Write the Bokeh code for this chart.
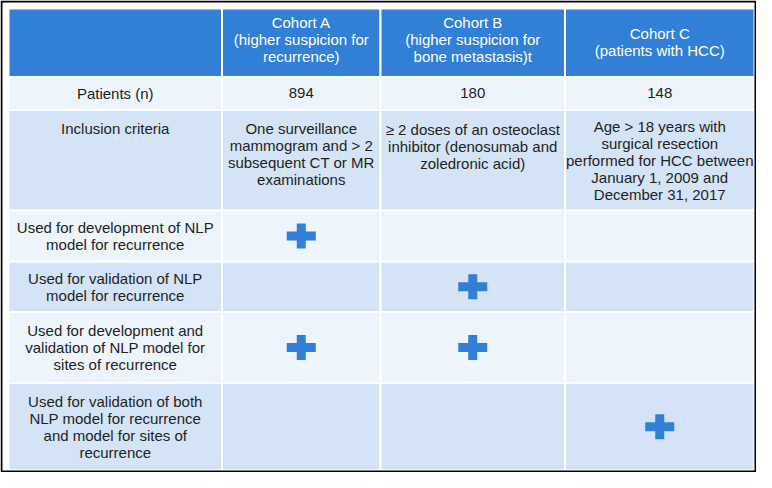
from bokeh.plotting import figure
from bokeh.models import Range1d, ColumnDataSource
from bokeh.core.properties import value
from bokeh.embed import file_html
from bokeh.resources import INLINE

# ---- data ----
cohorts = ["Cohort A\n(higher suspicion for\nrecurrence)",
           "Cohort B\n(higher suspicion for\nbone metastasis)t",
           "Cohort C\n(patients with HCC)"]
row_labels = ["Patients (n)",
              "Inclusion criteria",
              "Used for development of NLP\nmodel for recurrence",
              "Used for validation of NLP\nmodel for recurrence",
              "Used for development and\nvalidation of NLP model for\nsites of recurrence",
              "Used for validation of both\nNLP model for recurrence\nand model for sites of\nrecurrence"]
patients = ["894", "180", "148"]
criteria = ["One surveillance\nmammogram and > 2\nsubsequent CT or MR\nexaminations",
            "\u2265 2 doses of an osteoclast\ninhibitor (denosumab and\nzoledronic acid)",
            "Age > 18 years with\nsurgical resection\nperformed for HCC between\nJanuary 1, 2009 and\nDecember 31, 2017"]
usage = [[1, 0, 0],
         [0, 1, 0],
         [1, 1, 0],
         [0, 0, 1]]

# ---- layout ----
W, H = 756, 472
col_edges = [8, 221.5, 380, 564.5, 754]
row_edges = [8, 76.5, 109.5, 210, 261, 311.5, 382.5, 470]
crit_pad = [9.5, 11, 8]
HEAD = "#317fd7"
LIGHT = "#eef4fc"
DARK = "#d4e4f6"
TXT = "#231f20"
FONT = value("Liberation Sans")
FS = "15px"
LH = 1.0

p = figure(width=W, height=H, output_backend="svg", toolbar_location=None,
           x_range=Range1d(0, W), y_range=Range1d(H, 0),
           x_axis_type=None, y_axis_type=None, min_border=0,
           background_fill_color="white", border_fill_color="white")
p.grid.visible = False
p.outline_line_color = None

# cells
l, r, t, b, c = [], [], [], [], []
nrows = len(row_edges) - 1
for i in range(nrows):
    for j in range(len(col_edges) - 1):
        l.append(col_edges[j]); r.append(col_edges[j + 1])
        t.append(row_edges[i]); b.append(row_edges[i + 1])
        if i == 0:
            c.append(HEAD)
        else:
            c.append(LIGHT if i % 2 == 1 else DARK)
p.quad(left=l, right=r, top=t, bottom=b, fill_color=c, line_color="white", line_width=2)

def cx(j):
    return (col_edges[j] + col_edges[j + 1]) / 2

def cy(i):
    return (row_edges[i] + row_edges[i + 1]) / 2

# header
p.text(x=[cx(j + 1) for j in range(3)], y=[cy(0) - 3, cy(0) - 3, cy(0) - 1], text=cohorts,
       text_color="white", text_font=FONT, text_font_size=FS,
       text_align="center", text_baseline="middle", text_line_height=LH)

# row labels (centered, except inclusion row top aligned)
ci = [k for k in range(len(row_labels)) if k != 1]
p.text(x=[cx(0)] * len(ci), y=[cy(k + 1) for k in ci], text=[row_labels[k] for k in ci],
       text_color=TXT, text_font=FONT, text_font_size=FS,
       text_align="center", text_baseline="middle", text_line_height=LH)
p.text(x=[cx(0)], y=[row_edges[2] + 9.5], text=[row_labels[1]],
       text_color=TXT, text_font=FONT, text_font_size=FS,
       text_align="center", text_baseline="top", text_line_height=LH)

# patients
p.text(x=[cx(j + 1) for j in range(3)], y=[cy(1) - 1] * 3, text=patients,
       text_color=TXT, text_font=FONT, text_font_size=FS,
       text_align="center", text_baseline="middle")

# criteria
p.text(x=[cx(j + 1) for j in range(3)], y=[row_edges[2] + d for d in crit_pad], text=criteria,
       text_color=TXT, text_font=FONT, text_font_size=FS,
       text_align="center", text_baseline="top", text_line_height=LH)

# plus marks
px, py = [], []
for i, row in enumerate(usage):
    for j, v in enumerate(row):
        if v:
            px.append(cx(j + 1)); py.append(cy(i + 3))
src = ColumnDataSource(dict(x=px, y=py))
p.rect(x="x", y="y", width=29, height=9, source=src, fill_color=HEAD, line_color=None)
p.rect(x="x", y="y", width=9, height=25, source=src, fill_color=HEAD, line_color=None)

# outer frame
p.quad(left=[1], right=[W - 1], top=[1], bottom=[H - 1], fill_color=None,
       line_color="black", line_width=2)

open("out.html", "w").write(file_html(p, INLINE))
